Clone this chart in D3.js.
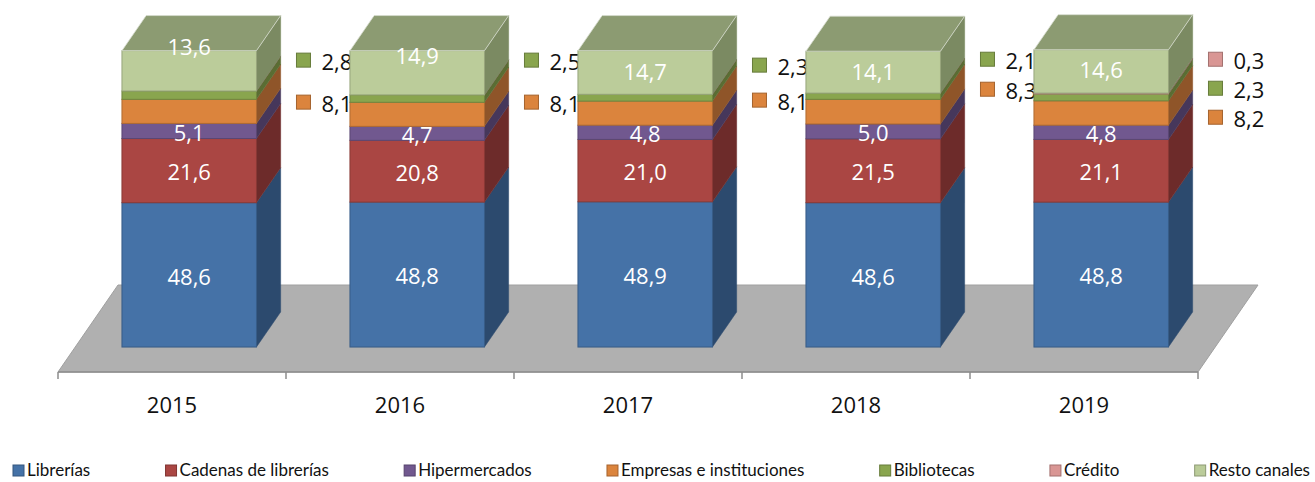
<!DOCTYPE html>
<html>
<head>
<meta charset="utf-8">
<script src="https://cdn.jsdelivr.net/npm/d3@7"></script>
<style>
  body { margin: 0; background: #fff; }
  svg { display: block; }
</style>
</head>
<body>
<div id="chart"></div>
<script>
// data (percent of sales per channel)
const years = ["2015", "2016", "2017", "2018", "2019"];
const seriesNames = ["Librerías", "Cadenas de librerías", "Hipermercados",
  "Empresas e instituciones", "Bibliotecas", "Crédito", "Resto canales"];
const librerias = [48.6, 48.8, 48.9, 48.6, 48.8];
const cadenas = [21.6, 20.8, 21.0, 21.5, 21.1];
const hipermercados = [5.1, 4.7, 4.8, 5.0, 4.8];
const empresas = [8.1, 8.1, 8.1, 8.3, 8.2];
const bibliotecas = [2.8, 2.5, 2.3, 2.1, 2.3];
const credito = [0, 0, 0, 0, 0.3];
const resto = [13.6, 14.9, 14.7, 14.1, 14.6];

const seriesValues = [librerias, cadenas, hipermercados, empresas, bibliotecas, credito, resto];

// colours: front, side
const frontColors = ["#4572a7", "#aa4643", "#71588f", "#db843d", "#89a54e", "#d99694", "#bbcc9a"];
const sideColors = ["#2c4a6e", "#6d2b2a", "#46375b", "#8f5529", "#5a6d33", "#8d6261", "#7b8a62"];
const topColor = "#8c9b72";

// which labels sit inside the bar (white) and which go outside with a key
const insideLabels = [0, 1, 2, 6];
const outsideLabels = [5, 4, 3]; // top to bottom

// little layout tweaks for labels Excel moved around
const restoNudge = [-26, -18, -2, -2, -3];
const calloutFirst = [9.5, 9.5, 14.5, 8, 9.5];
const calloutStep = [42, 42, 35, 30, 29];

const width = 1315;
const height = 482;

// floor / projection
const floorFront = 372;
const depthX = 60;
const depthY = -87;
const barT0 = 0.287;
const barT1 = 0.69;

const svg = d3.select("#chart").append("svg")
  .attr("width", width)
  .attr("height", height)
  .style("font-family", "'Open Sans', sans-serif");

const x = d3.scaleBand()
  .domain(years)
  .range([58, 1198])
  .paddingInner(0.41)
  .paddingOuter(0.205);

const y = d3.scaleLinear()
  .domain([0, 100])
  .range([floorFront, floorFront - 297]);

const proj = (px, v, t) => [px + t * depthX, y(v) + t * depthY];
const fmt = v => d3.format(".1f")(v).replace(".", ",");

const table = years.map((yr, i) => {
  const row = { year: yr };
  seriesNames.forEach((s, k) => { row[s] = seriesValues[k][i]; });
  return row;
});

const stacked = d3.stack().keys(seriesNames)(table);

// floor
const [x0, x1] = x.range();
const floorPts = [proj(x0, 0, 0), proj(x1, 0, 0), proj(x1, 0, 1), proj(x0, 0, 1)];
svg.append("polygon")
  .attr("points", floorPts.map(p => p.join(",")).join(" "))
  .attr("fill", "#b0b0b0")
  .attr("stroke", "#a0a0a0")
  .attr("stroke-width", 1);

// axis line and ticks between categories
svg.append("line")
  .attr("x1", x0).attr("x2", x1)
  .attr("y1", floorFront).attr("y2", floorFront)
  .attr("stroke", "#8c8c8c").attr("stroke-width", 1.5);

d3.range(years.length + 1).forEach(i => {
  const tx = x0 + i * x.step();
  svg.append("line")
    .attr("x1", tx).attr("x2", tx)
    .attr("y1", floorFront).attr("y2", floorFront + 7)
    .attr("stroke", "#8c8c8c").attr("stroke-width", 1.5);
});

svg.append("g").selectAll("text")
  .data(years)
  .enter().append("text")
  .attr("x", (d, i) => x0 + i * x.step() + x.step() / 2)
  .attr("y", 405)
  .attr("dy", "0.35em")
  .attr("text-anchor", "middle")
  .attr("font-size", 22)
  .attr("fill", "#111")
  .text(d => d);

// bars
const bw = x.bandwidth();
const pts = arr => arr.map(p => p.join(",")).join(" ");

years.forEach((yr, i) => {
  const g = svg.append("g");
  const bx = x(yr);
  stacked.forEach((layer, k) => {
    const [v0, v1] = layer[i];
    const fl = proj(bx, v0, barT0);
    const fh = proj(bx, v1, barT0);
    // side
    g.append("polygon")
      .attr("points", pts([
        proj(bx + bw, v0, barT0), proj(bx + bw, v0, barT1),
        proj(bx + bw, v1, barT1), proj(bx + bw, v1, barT0)]))
      .attr("fill", sideColors[k])
      .attr("stroke", sideColors[k])
      .attr("stroke-width", 0.5);
    // front
    g.append("rect")
      .attr("x", fl[0])
      .attr("y", fh[1])
      .attr("width", bw)
      .attr("height", fl[1] - fh[1])
      .attr("fill", frontColors[k])
      .attr("stroke", d3.color(frontColors[k]).darker(0.6))
      .attr("stroke-width", 1);
  });
  // top face
  const total = stacked[stacked.length - 1][i][1];
  g.append("polygon")
    .attr("points", pts([
      proj(bx, total, barT0), proj(bx + bw, total, barT0),
      proj(bx + bw, total, barT1), proj(bx, total, barT1)]))
    .attr("fill", topColor)
    .attr("stroke", "#d8ddd0")
    .attr("stroke-width", 0.8);

  // white labels inside
  insideLabels.forEach(k => {
    const [v0, v1] = stacked[k][i];
    const p = proj(bx + bw / 2, (v0 + v1) / 2, barT0);
    g.append("text")
      .attr("x", p[0])
      .attr("y", p[1] + 2 + (k === 6 ? restoNudge[i] : 0))
      .attr("dy", "0.35em")
      .attr("text-anchor", "middle")
      .attr("font-size", 22)
      .attr("fill", "#fff")
      .text(fmt(seriesValues[k][i]));
  });

  // outside labels with legend key
  const topY = proj(bx, total, barT0)[1];
  const keyX = proj(bx + bw, 0, barT0)[0] + 40;
  let row = 0;
  outsideLabels.forEach(k => {
    if (seriesValues[k][i] <= 0) return;
    const cy = topY + calloutFirst[i] + row * calloutStep[i];
    row++;
    g.append("rect")
      .attr("x", keyX).attr("y", cy - 7)
      .attr("width", 14).attr("height", 14)
      .attr("fill", frontColors[k])
      .attr("stroke", d3.color(frontColors[k]).darker(0.8))
      .attr("stroke-width", 1);
    g.append("text")
      .attr("x", keyX + 25)
      .attr("y", cy + 2)
      .attr("dy", "0.35em")
      .attr("font-size", 22)
      .attr("fill", "#111")
      .text(fmt(seriesValues[k][i]));
  });
});

// legend along the bottom
const legend = svg.append("g").style("font-family", "Lato, sans-serif");
const items = seriesNames.map((name, k) => {
  const it = legend.append("g");
  it.append("rect")
    .attr("width", 11).attr("height", 11)
    .attr("y", 465)
    .attr("fill", frontColors[k])
    .attr("stroke", d3.color(frontColors[k]).darker(0.8))
    .attr("stroke-width", 1);
  const t = it.append("text")
    .attr("x", 14)
    .attr("y", 476)
    .attr("font-size", 17)
    .attr("fill", "#111")
    .text(name);
  return { g: it, w: 14 + t.node().getComputedTextLength() };
});
const legendStart = 13;
const legendEnd = 1310;
const gap = (legendEnd - legendStart - d3.sum(items, d => d.w)) / (items.length - 1);
let lx = legendStart;
items.forEach(d => {
  d.g.attr("transform", `translate(${lx},0)`);
  lx += d.w + gap;
});
</script>
</body>
</html>
